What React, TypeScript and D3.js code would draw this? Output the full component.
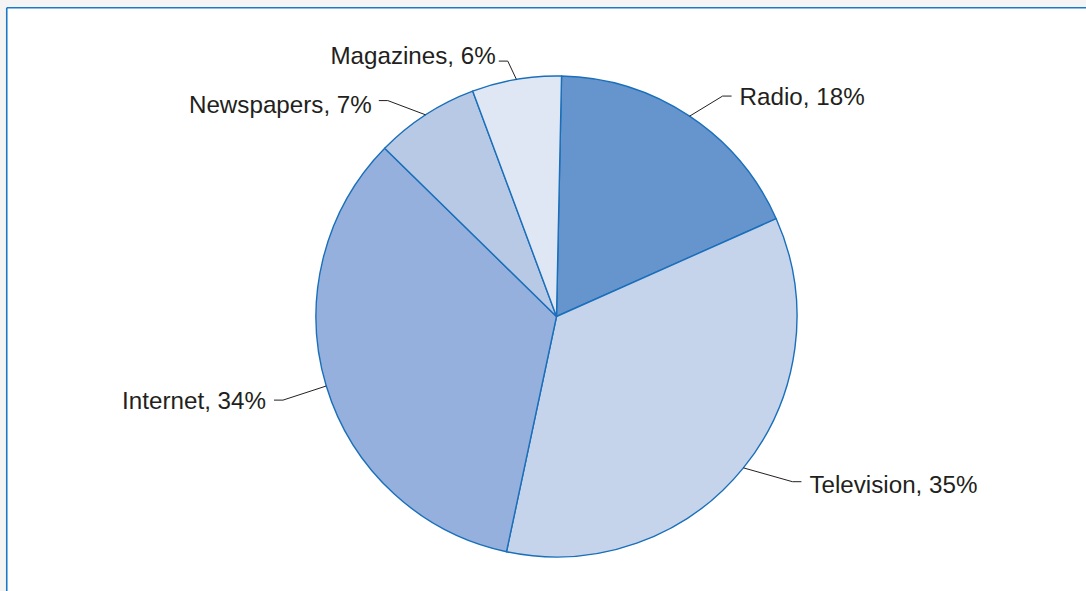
import React from "react";
import * as d3 from "d3";

const categories = ["Radio", "Television", "Internet", "Newspapers", "Magazines"];
const shares = [18, 35, 34, 7, 6];
const colors = ["#6694cc", "#c6d4eb", "#95b0dc", "#b8c9e6", "#dfe6f4"];

// layout only: leader elbow in polar coords (degrees clockwise from 12 o'clock, radius) and label nudge
const elbowLayout: Record<string, { angle: number; r: number; side: number; dy: number; gap: number }> = {
  Radio: { angle: 37, r: 276, side: 1, dy: 0, gap: 8 },
  Television: { angle: 125, r: 288, side: 1, dy: 3, gap: 8 },
  Internet: { angle: 253, r: 286, side: -1, dy: 0, gap: 8 },
  Newspapers: { angle: 322, r: 274, side: -1, dy: 4, gap: 7 },
  Magazines: { angle: 349.2, r: 260, side: -1, dy: -6, gap: 3 },
};

const W = 1086;
const H = 591;
const cx = 556.5;
const cy = 316.5;
const R = 240.5;
const startDeg = 1.2;

export default function App() {
  const data = categories.map((c, i) => ({ c, v: shares[i], color: colors[i] }));
  const pie = d3
    .pie<{ c: string; v: number; color: string }>()
    .value((d) => d.v)
    .sort(null)
    .startAngle((startDeg * Math.PI) / 180)
    .endAngle((startDeg * Math.PI) / 180 + 2 * Math.PI);
  const arcs = pie(data);
  const arcGen = d3.arc<d3.PieArcDatum<any>>().innerRadius(0).outerRadius(R);
  const polar = (deg: number, r: number) => {
    const a = (deg * Math.PI) / 180;
    return [cx + r * Math.sin(a), cy - r * Math.cos(a)];
  };

  return (
    <svg
      width={W}
      height={H}
      style={{ position: "fixed", left: 0, top: 0, display: "block" }}
      fontFamily="'Liberation Sans', Arial, Helvetica, sans-serif"
    >
      <rect x={0} y={0} width={W} height={H} fill="#f4f4f4" />
      <rect x={7} y={8} width={W} height={H} fill="#ffffff" />
      <line x1={6.75} y1={7.75} x2={W} y2={7.75} stroke="#1a7ac8" strokeWidth={1.6} />
      <line x1={6.75} y1={7.75} x2={6.75} y2={H} stroke="#1a7ac8" strokeWidth={1.6} />
      <g transform={`translate(${cx},${cy})`}>
        {arcs.map((a) => (
          <path
            key={a.data.c}
            d={arcGen(a) as string}
            fill={a.data.color}
            stroke="#1a6fba"
            strokeWidth={1.4}
            strokeLinejoin="round"
          />
        ))}
      </g>
      {arcs.map((a) => {
        const mid = (((a.startAngle + a.endAngle) / 2) * 180) / Math.PI;
        const lay = elbowLayout[a.data.c];
        const [sx, sy] = polar(mid, R);
        const [ex, ey] = polar(lay.angle, lay.r);
        const hx = ex + lay.side * 9;
        const tx = hx + lay.side * lay.gap;
        return (
          <g key={"l" + a.data.c}>
            <polyline
              points={`${sx},${sy} ${ex},${ey} ${hx},${ey}`}
              fill="none"
              stroke="#231f20"
              strokeWidth={1}
            />
            <text
              x={tx}
              y={ey + 8.7 + lay.dy}
              fontSize={24.2}
              fill="#231f20"
              textAnchor={lay.side > 0 ? "start" : "end"}
            >
              {`${a.data.c}, ${a.data.v}%`}
            </text>
          </g>
        );
      })}
    </svg>
  );
}
